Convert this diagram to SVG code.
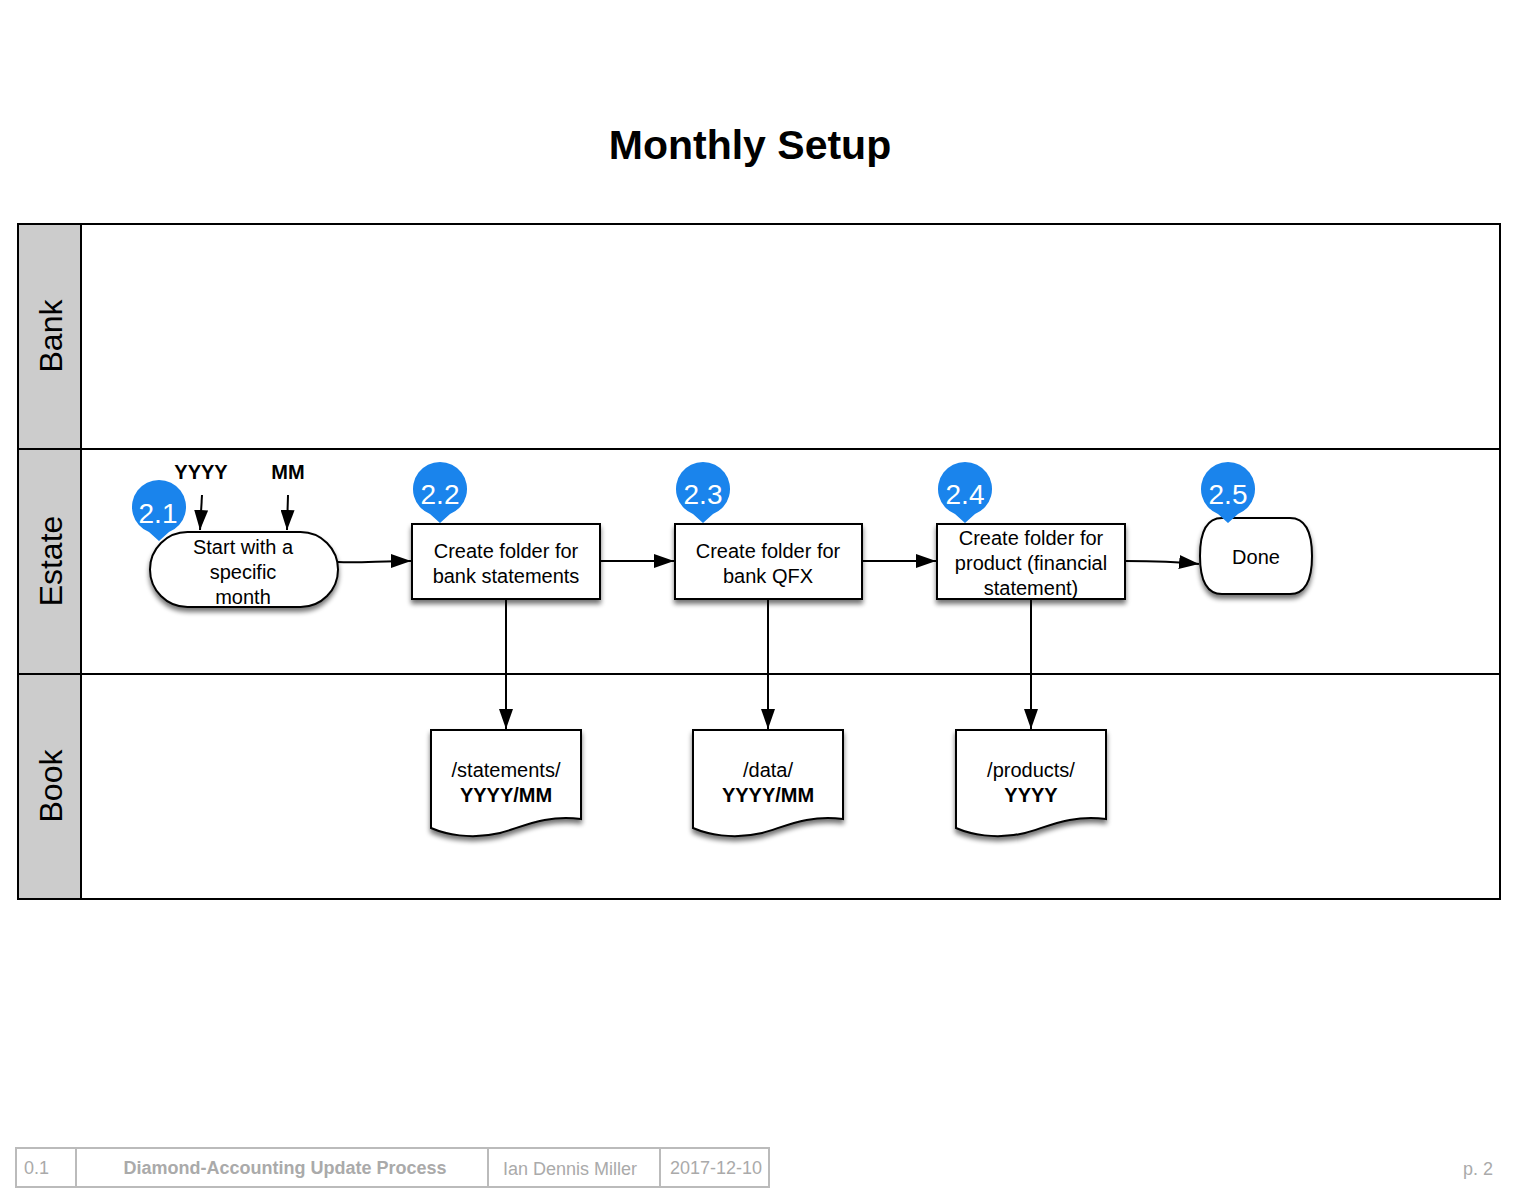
<svg xmlns="http://www.w3.org/2000/svg" width="1529" height="1199" viewBox="0 0 1529 1199">
<defs>
<filter id="sh" x="-20%" y="-20%" width="140%" height="150%">
<feGaussianBlur in="SourceAlpha" stdDeviation="2.5"/>
<feOffset dx="0" dy="4" result="b"/>
<feComponentTransfer><feFuncA type="linear" slope="0.55"/></feComponentTransfer>
<feMerge><feMergeNode/><feMergeNode in="SourceGraphic"/></feMerge>
</filter>
<marker id="ar" viewBox="0 0 20 14" refX="20" refY="7" markerWidth="20" markerHeight="14" markerUnits="userSpaceOnUse" orient="auto">
<path d="M0,0 L20,7 L0,14 Z" fill="#000"/>
</marker>
<path id="badge" d="M0,29 L-10,20 A27,27 0 1,1 10,20 Z" fill="#1a84ec"/>
</defs>
<style>
text{font-family:"Liberation Sans",Arial,sans-serif;}
.lane{fill:#fff;stroke:#000;stroke-width:2;}
.hdr{fill:#cccccc;stroke:#000;stroke-width:2;}
.ht{font-size:32px;fill:#000;}
.nd{fill:#fff;stroke:#000;stroke-width:2;filter:url(#sh);}
.t{font-size:20px;fill:#000;text-anchor:middle;}
.b{font-weight:bold;}
.bt{font-size:28px;fill:#fff;text-anchor:middle;}
.cn{fill:none;stroke:#000;stroke-width:2;marker-end:url(#ar);}
.ft{fill:#fff;stroke:#bbbbbb;stroke-width:2;}
.ftt{font-size:18px;fill:#aaaaaa;}
</style>
<text x="750" y="159" font-size="41" font-weight="bold" text-anchor="middle" fill="#000">Monthly Setup</text>
<g id="lanes">
<rect class="lane" x="18" y="224" width="1482" height="225"/>
<rect class="lane" x="18" y="449" width="1482" height="225"/>
<rect class="lane" x="18" y="674" width="1482" height="225"/>
<rect class="hdr" x="18" y="224" width="63" height="225"/>
<rect class="hdr" x="18" y="449" width="63" height="225"/>
<rect class="hdr" x="18" y="674" width="63" height="225"/>
<text class="ht" transform="translate(62,336) rotate(-90)" text-anchor="middle">Bank</text>
<text class="ht" transform="translate(62,561) rotate(-90)" text-anchor="middle">Estate</text>
<text class="ht" transform="translate(62,786) rotate(-90)" text-anchor="middle">Book</text>
</g>
<g id="connectors">
<path class="cn" d="M202,495 L200,530"/>
<path class="cn" d="M288,495 L287,530"/>
<path class="cn" d="M338,562 C360,563 380,561 411,561"/>
<path class="cn" d="M600,561 L674,561"/>
<path class="cn" d="M862,561 L936,561"/>
<path class="cn" d="M1125,561 C1150,561 1170,561 1199,564"/>
<path class="cn" d="M506,599 L506,729"/>
<path class="cn" d="M768,599 L768,729"/>
<path class="cn" d="M1031,599 L1031,729"/>
</g>
<g id="inputs">
<text x="201" y="479" class="t b">YYYY</text>
<text x="288" y="479" class="t b">MM</text>
</g>
<g id="n21">
<rect class="nd" x="150" y="532" width="188" height="75" rx="37.5"/>
<text class="t" x="243" y="554">Start with a</text>
<text class="t" x="243" y="579">specific</text>
<text class="t" x="243" y="604">month</text>
<use href="#badge" x="159" y="512"/>
<text class="bt" x="158" y="523">2.1</text>
</g>
<g id="n22">
<rect class="nd" x="412" y="524" width="188" height="75"/>
<text class="t" x="506" y="558">Create folder for</text>
<text class="t" x="506" y="583">bank statements</text>
<use href="#badge" x="440" y="494"/>
<text class="bt" x="440" y="504">2.2</text>
</g>
<g id="n23">
<rect class="nd" x="675" y="524" width="187" height="75"/>
<text class="t" x="768" y="558">Create folder for</text>
<text class="t" x="768" y="583">bank QFX</text>
<use href="#badge" x="703" y="494"/>
<text class="bt" x="703" y="504">2.3</text>
</g>
<g id="n24">
<rect class="nd" x="937" y="524" width="188" height="75"/>
<text class="t" x="1031" y="545">Create folder for</text>
<text class="t" x="1031" y="570">product (financial</text>
<text class="t" x="1031" y="595">statement)</text>
<use href="#badge" x="965" y="494"/>
<text class="bt" x="965" y="504">2.4</text>
</g>
<g id="n25">
<path class="nd" d="M1222,518 H1290 Q1312,518 1312,556 Q1312,594 1290,594 H1222 Q1200,594 1200,556 Q1200,518 1222,518 Z"/>
<text class="t" x="1256" y="564">Done</text>
<use href="#badge" x="1228" y="494"/>
<text class="bt" x="1228" y="504">2.5</text>
</g>
<g id="d1">
<path class="nd" d="M431,730 H581 V819 C545,814 520,828 500,833 C470,840 445,834 431,828 Z"/>
<text class="t" x="506" y="777">/statements/</text>
<text class="t b" x="506" y="802">YYYY/MM</text>
</g>
<g id="d2">
<path class="nd" d="M693,730 H843 V819 C807,814 782,828 762,833 C732,840 707,834 693,828 Z"/>
<text class="t" x="768" y="777">/data/</text>
<text class="t b" x="768" y="802">YYYY/MM</text>
</g>
<g id="d3">
<path class="nd" d="M956,730 H1106 V819 C1070,814 1045,828 1025,833 C995,840 970,834 956,828 Z"/>
<text class="t" x="1031" y="777">/products/</text>
<text class="t b" x="1031" y="802">YYYY</text>
</g>
<g id="footer">
<rect class="ft" x="16" y="1148" width="60" height="39"/>
<rect class="ft" x="76" y="1148" width="412" height="39"/>
<rect class="ft" x="488" y="1148" width="172" height="39"/>
<rect class="ft" x="660" y="1148" width="109" height="39"/>
<text class="ftt" x="24" y="1174">0.1</text>
<text class="ftt" x="285" y="1174" text-anchor="middle" font-weight="bold" font-size="19">Diamond-Accounting Update Process</text>
<text class="ftt" x="570" y="1175" text-anchor="middle">Ian Dennis Miller</text>
<text class="ftt" x="716" y="1174" text-anchor="middle">2017-12-10</text>
<text class="ftt" x="1493" y="1175" text-anchor="end">p. 2</text>
</g>
</svg>
